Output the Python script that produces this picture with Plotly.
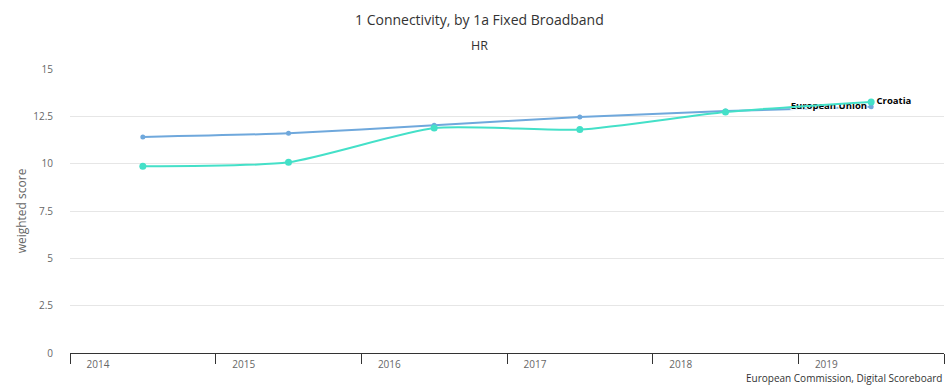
import plotly.graph_objects as go

years = ["2014", "2015", "2016", "2017", "2018", "2019"]
eu_values = [11.41, 11.60, 12.03, 12.46, 12.78, 13.01]
hr_values = [9.86, 10.07, 11.88, 11.80, 12.73, 13.26]
y_ticks = [0, 2.5, 5, 7.5, 10, 12.5, 15]

xpos = list(range(len(years)))
font = "Open Sans, DejaVu Sans, sans-serif"
outline = "1px 1px 1px white, -1px -1px 1px white, 1px -1px 1px white, -1px 1px 1px white"

fig = go.Figure()
fig.add_trace(go.Scatter(
    x=xpos, y=eu_values, name="European Union",
    mode="lines+markers+text",
    line=dict(color="#6fa8dc", width=2, shape="spline", smoothing=0.5),
    marker=dict(size=5, color="#6fa8dc"),
    text=[""] * (len(years) - 1) + ["European Union"],
    textposition="middle left",
    textfont=dict(family=font, size=9.5, color="#000000", weight="bold", shadow=outline),
    hoverinfo="skip",
))
fig.add_trace(go.Scatter(
    x=xpos, y=hr_values, name="Croatia",
    mode="lines+markers+text",
    line=dict(color="#44e0c8", width=2, shape="spline", smoothing=0.6),
    marker=dict(size=7, color="#44e0c8"),
    text=[""] * (len(years) - 1) + ["Croatia"],
    textposition="middle right",
    textfont=dict(family=font, size=9.5, color="#000000", weight="bold", shadow=outline),
    hoverinfo="skip",
))

fig.update_layout(
    width=949, height=385,
    margin=dict(l=70, r=5, t=69, b=32),
    paper_bgcolor="white", plot_bgcolor="white",
    showlegend=False,
    font=dict(family=font, color="#666666", size=10),
    annotations=[
        dict(text="1 Connectivity, by 1a Fixed Broadband", xref="paper", yref="paper",
             x=0.468, y=1, yshift=61, showarrow=False,
             font=dict(family=font, size=14, color="#333333")),
        dict(text="HR", xref="paper", yref="paper", x=0.468, y=1, yshift=34,
             showarrow=False, font=dict(family=font, size=12.5, color="#333333")),
        dict(text="European Commission, Digital Scoreboard", xref="paper", yref="paper",
             x=1, y=0, yshift=-25, xanchor="right", yanchor="middle", showarrow=False,
             font=dict(family=font, size=10, color="#333333")),
    ],
)
fig.update_xaxes(
    range=[-0.5, len(years) - 0.5],
    tickvals=[i - 0.5 for i in range(len(years) + 1)],
    ticktext=years + [""],
    ticklabelshift=28,
    ticklabelstandoff=-8,
    ticks="outside", ticklen=10, tickcolor="#333333", tickwidth=1,
    showline=True, linecolor="#333333", linewidth=1,
    showgrid=False, zeroline=False,
    tickfont=dict(size=10, color="#666666"),
)
fig.update_yaxes(
    range=[0, 15], tickvals=y_ticks, ticktext=["0", "2.5", "5", "7.5", "10", "12.5", "15"],
    showgrid=True, gridcolor="#e6e6e6", gridwidth=1, zeroline=False,
    ticks="outside", ticklen=14, tickcolor="rgba(0,0,0,0)",
    tickfont=dict(size=10, color="#666666"),
    title=dict(text="weighted score", font=dict(size=12, color="#666666"), standoff=4),
)
fig.write_html("out.html", config={"displayModeBar": False},
               post_script="document.body.style.margin='0';document.body.style.overflow='hidden';")
